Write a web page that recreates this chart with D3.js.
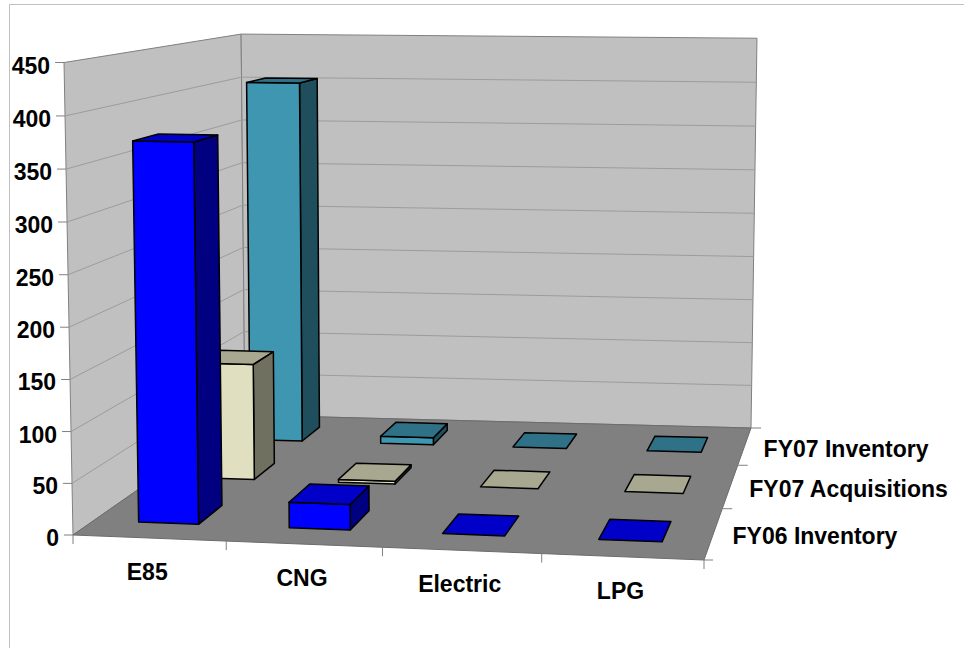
<!DOCTYPE html>
<html>
<head>
<meta charset="utf-8">
<script src="https://cdn.jsdelivr.net/npm/d3@7"></script>
<style>
body { margin: 0; background: #fff; }
text { font-family: "Liberation Sans", Arial, sans-serif; font-weight: bold; fill: #000; font-size: 23px; }
</style>
</head>
<body>
<svg width="964" height="648"></svg>
<script>
// data
var categories = ["E85", "CNG", "Electric", "LPG"]
var seriesNames = ["FY06 Inventory", "FY07 Acquisitions", "FY07 Inventory"]
var fy06Inventory = [372, 25, 0, 0]
var fy07Acquisitions = [122, 3, 0, 0]
var fy07Inventory = [403, 8, 0, 0]
var seriesValues = [fy06Inventory, fy07Acquisitions, fy07Inventory]
var valueTicks = [0, 50, 100, 150, 200, 250, 300, 350, 400, 450]

var colors = [
    {front: "#0000ff", top: "#0000c8", side: "#000080"},
    {front: "#e0e0c0", top: "#a8a890", side: "#707060"},
    {front: "#3f96b0", top: "#2f7186", side: "#1f4f5c"}
]

var svg = d3.select("svg")

// frame border
svg.append("path")
    .attr("d", "M9.5,648V4.5H964")
    .attr("fill", "none")
    .attr("stroke", "#c0c0c0")

// square to quad homography, corners: x0z0, x1z0, x1z1, x0z1
function quadMap(q) {
    var dx1 = q[1][0] - q[2][0], dx2 = q[3][0] - q[2][0], sx = q[0][0] - q[1][0] + q[2][0] - q[3][0]
    var dy1 = q[1][1] - q[2][1], dy2 = q[3][1] - q[2][1], sy = q[0][1] - q[1][1] + q[2][1] - q[3][1]
    var det = dx1 * dy2 - dx2 * dy1
    var g = (sx * dy2 - dx2 * sy) / det
    var h = (dx1 * sy - sx * dy1) / det
    return function (x, z) {
        var w = 1 + g * x + h * z
        return [
            (q[0][0] + (q[1][0] * (1 + g) - q[0][0]) * x + (q[3][0] * (1 + h) - q[0][0]) * z) / w,
            (q[0][1] + (q[1][1] * (1 + g) - q[0][1]) * x + (q[3][1] * (1 + h) - q[0][1]) * z) / w
        ]
    }
}

// the floor on screen
var floorMap = quadMap([[73, 535], [704, 560], [751, 428], [245, 415]])

// x right, y up, z into the picture, all 0..1
function project(x, y, z) {
    var u = x + 0.03 * x * (1 - x)
    var t = y / (1 + 0.019 * (1 - y))
    var a = floorMap(u, z)
    var fullHeight = 66 - 0.002 * a[0] + 0.76 * a[1] // wall height grows toward the viewer
    var lean = (a[0] - 448) * 5.07e-5 // verticals converge a little
    return [a[0] + lean * fullHeight * t, a[1] - fullHeight * t]
}

var xScale = d3.scaleBand().domain(categories).range([0, 1]).paddingInner(0.6).paddingOuter(0.3)
var zScale = d3.scaleBand().domain(seriesNames).range([0, 1]).paddingInner(0.6).paddingOuter(0.3)
var xStep = d3.scaleBand().domain(categories).range([0, 1])
var zStep = d3.scaleBand().domain(seriesNames).range([0, 1])
var yScale = d3.scaleLinear().domain([0, 450]).range([0, 1])

var poly = d3.line()
function face(pts) { return poly(pts) + "Z" }

// walls
svg.append("path")
    .attr("d", face([project(0, 0, 0), project(0, 1, 0), project(0, 1, 1), project(0, 0, 1)]))
    .attr("fill", "#c0c0c0").attr("stroke", "#808080").attr("stroke-width", 1)
svg.append("path")
    .attr("d", face([project(0, 0, 1), project(0, 1, 1), project(1, 1, 1), project(1, 0, 1)]))
    .attr("fill", "#c0c0c0").attr("stroke", "#808080").attr("stroke-width", 1)

// grid lines on both walls
var grid = svg.append("g").attr("fill", "none").attr("stroke", "#9c9c9c").attr("stroke-width", 1)
valueTicks.slice(1, -1).forEach(function (v) {
    var y = yScale(v)
    grid.append("path").attr("d", poly([project(0, y, 0), project(0, y, 1), project(1, y, 1)]))
})

// floor
svg.append("path")
    .attr("d", face([project(0, 0, 0), project(1, 0, 0), project(1, 0, 1), project(0, 0, 1)]))
    .attr("fill", "#808080").attr("stroke", "#6c6c6c").attr("stroke-width", 1)

// axis ticks
var axis = svg.append("g").attr("fill", "none").attr("stroke", "#808080").attr("stroke-width", 1)
valueTicks.forEach(function (v) {
    var p = project(0, yScale(v), 0)
    axis.append("path").attr("d", poly([[p[0] - 9, p[1]], p]))
})
categories.forEach(function (c) {
    var p = project(xStep(c), 0, 0)
    axis.append("path").attr("d", poly([p, [p[0], p[1] + 9]]))
})
var pEnd = project(1, 0, 0)
axis.append("path").attr("d", poly([pEnd, [pEnd[0], pEnd[1] + 9]]))
axis.append("path").attr("d", poly([pEnd, [pEnd[0] + 9, pEnd[1]]]))
seriesNames.forEach(function (s) {
    var p = project(1, 0, zStep(s) + zStep.bandwidth())
    axis.append("path").attr("d", poly([p, [p[0] + 10, p[1]]]))
})

svg.append("g").selectAll("text")
    .data(valueTicks)
    .join("text")
    .attr("x", d => project(0, yScale(d), 0)[0] - 14)
    .attr("y", d => project(0, yScale(d), 0)[1] + 11)
    .attr("text-anchor", "end")
    .text(d => d)

svg.append("g").selectAll("text")
    .data(categories)
    .join("text")
    .attr("x", d => project(xStep(d) + xStep.bandwidth() / 2, 0, 0)[0] - 2)
    .attr("y", d => project(xStep(d) + xStep.bandwidth() / 2, 0, 0)[1] + 42)
    .attr("text-anchor", "middle")
    .text(d => d)

svg.append("g").selectAll("text")
    .data(seriesNames)
    .join("text")
    .attr("x", d => project(1, 0, zStep(d) + zStep.bandwidth() / 2)[0] + 19)
    .attr("y", d => project(1, 0, zStep(d) + zStep.bandwidth() / 2)[1] + 11)
    .text(d => d)

// bars, back row first
var bars = svg.append("g").attr("stroke", "#000").attr("stroke-width", 1.5).attr("stroke-linejoin", "round")
d3.range(seriesNames.length).reverse().forEach(function (si) {
    var z0 = zScale(seriesNames[si]), z1 = z0 + zScale.bandwidth()
    categories.forEach(function (c, ci) {
        var x0 = xScale(c), x1 = x0 + xScale.bandwidth(), h = yScale(seriesValues[si][ci])
        var col = colors[si]
        if (h > 0) {
            bars.append("path").attr("fill", col.side)
                .attr("d", face([project(x1, 0, z0), project(x1, 0, z1), project(x1, h, z1), project(x1, h, z0)]))
            bars.append("path").attr("fill", col.front)
                .attr("d", face([project(x0, 0, z0), project(x1, 0, z0), project(x1, h, z0), project(x0, h, z0)]))
        }
        bars.append("path").attr("fill", col.top)
            .attr("d", face([project(x0, h, z0), project(x1, h, z0), project(x1, h, z1), project(x0, h, z1)]))
    })
})
</script>
</body>
</html>
